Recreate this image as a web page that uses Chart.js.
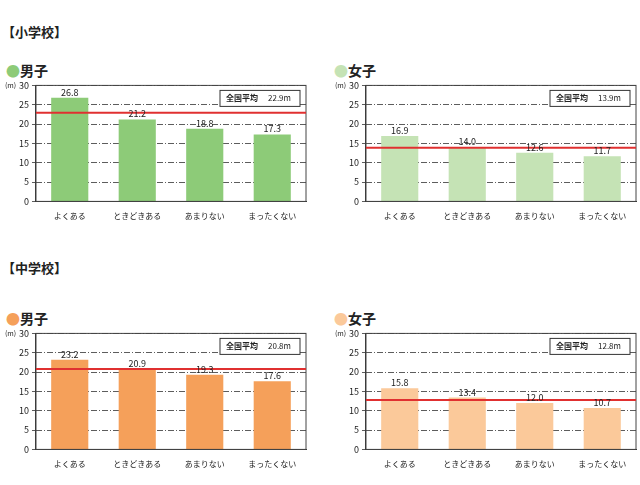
<!DOCTYPE html><html><head><meta charset="utf-8">
<script src="https://cdn.jsdelivr.net/npm/chart.js@4"></script>
<style>body{margin:0;width:640px;height:485px;background:#fff;font-family:"Noto Sans CJK JP",sans-serif;position:relative}
.t{position:absolute;font-size:13px;font-weight:bold;color:#222}
.h{position:absolute;font-size:14px;font-weight:bold;color:#222}
.c{position:absolute;width:310px;height:146px}</style></head><body>
<div class="t" style="left:2px;top:22px">【小学校】</div>
<div class="t" style="left:2px;top:258px">【中学校】</div>
<div class="h" style="left:6px;top:60px"><span style="color:#8dcb78">●</span>男子</div>
<div class="h" style="left:334px;top:60px"><span style="color:#c5e3b5">●</span>女子</div>
<div class="h" style="left:6px;top:308px"><span style="color:#f5a05a">●</span>男子</div>
<div class="h" style="left:334px;top:308px"><span style="color:#fbc99a">●</span>女子</div>
<div class="c" style="left:2px;top:77px"><canvas id="c1"></canvas></div>
<div class="c" style="left:332px;top:77px"><canvas id="c2"></canvas></div>
<div class="c" style="left:2px;top:325px"><canvas id="c3"></canvas></div>
<div class="c" style="left:332px;top:325px"><canvas id="c4"></canvas></div>
<script>
const categories=["よくある","ときどきある","あまりない","まったくない"];
const elemBoys=[26.8,21.2,18.8,17.3], elemBoysAvg=22.9;
const elemGirls=[16.9,14.0,12.6,11.7], elemGirlsAvg=13.9;
const midBoys=[23.2,20.9,19.3,17.6], midBoysAvg=20.8;
const midGirls=[15.8,13.4,12.0,10.7], midGirlsAvg=12.8;
const F='"Noto Sans CJK JP",sans-serif';
function make(id,data,avg,color){
 new Chart(document.getElementById(id),{type:'bar',
  data:{labels:categories,datasets:[{data:data,backgroundColor:color,barPercentage:0.55,categoryPercentage:1}]},
  options:{responsive:true,maintainAspectRatio:false,animation:false,
   layout:{padding:{top:8,right:6,left:14}},
   plugins:{legend:{display:false},tooltip:{enabled:false}},
   scales:{x:{grid:{display:false},border:{color:'#333'},ticks:{color:'#222',font:{size:8,family:F},padding:2}},
    y:{min:0,max:30,ticks:{stepSize:5,color:'#222',font:{size:9,family:F},padding:3},
     grid:{color:'#333',lineWidth:0.8,drawTicks:true,tickLength:4},border:{dash:[6,2,1,2],color:'#333'}}}},
  plugins:[{id:'x',afterDatasetsDraw(ch){const c=ch.ctx,a=ch.chartArea,y=ch.scales.y;
   c.save();c.strokeStyle='#444';c.lineWidth=1;c.strokeRect(a.left,a.top,a.right-a.left,a.bottom-a.top);
   const ay=y.getPixelForValue(avg);c.strokeStyle='#e03030';c.lineWidth=2;c.beginPath();c.moveTo(a.left,ay);c.lineTo(a.right,ay);c.stroke();
   c.fillStyle='#222';c.font='9px '+F;c.textAlign='center';c.textBaseline='bottom';
   ch.getDatasetMeta(0).data.forEach((b,i)=>c.fillText(data[i].toFixed(1),b.x,b.y-1));
   const bw=80,bh=16,bx=a.right-bw-6,by=a.top+5;c.fillStyle='#fff';c.fillRect(bx,by,bw,bh);c.strokeStyle='#333';c.lineWidth=1;c.strokeRect(bx,by,bw,bh);
   c.fillStyle='#222';c.textBaseline='middle';c.font='bold 8px '+F;c.textAlign='left';c.fillText('全国平均',bx+6,by+bh/2);
   c.font='8px '+F;c.fillText(avg.toFixed(1)+'m',bx+48,by+bh/2);
   c.font='7px '+F;c.textAlign='left';c.fillText('(m)',3,a.top);c.restore();}}]});
}
make('c1',elemBoys,elemBoysAvg,'#8dcb78');
make('c2',elemGirls,elemGirlsAvg,'#c5e3b5');
make('c3',midBoys,midBoysAvg,'#f5a05a');
make('c4',midGirls,midGirlsAvg,'#fbc99a');
</script></body></html>
